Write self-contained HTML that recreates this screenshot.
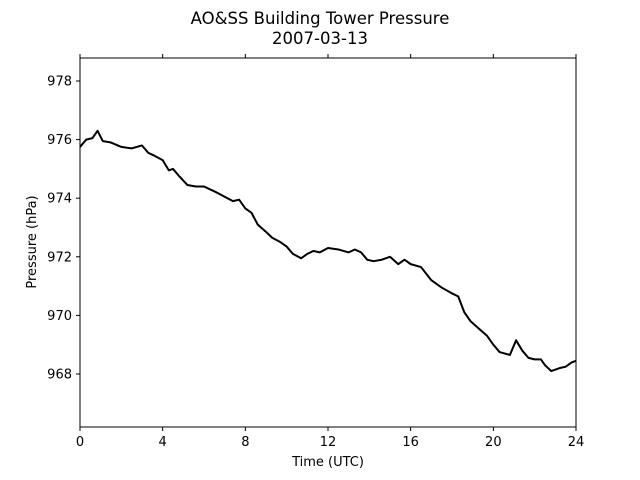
<!DOCTYPE html>
<html><head><meta charset="utf-8"><style>
body{margin:0;background:#fff}
svg{display:block;font-family:"DejaVu Sans","Liberation Sans",sans-serif}
</style></head><body>
<svg id="chart" width="640" height="480">
<text x="320" y="24" text-anchor="middle" font-size="16.5">AO&amp;SS Building Tower Pressure</text>
<text x="320" y="44" text-anchor="middle" font-size="16.5">2007-03-13</text>
<g id="axes"></g>
<rect x="80" y="58" width="496" height="369" fill="none" stroke="#000" stroke-width="1"/>
<text x="328" y="466" text-anchor="middle" font-size="13">Time (UTC)</text>
<text transform="translate(36,242) rotate(-90)" text-anchor="middle" font-size="13">Pressure (hPa)</text>
</svg>
<script>
const times=[0,0.3,0.6,0.85,1.1,1.5,2,2.5,3,3.3,3.6,4,4.3,4.5,4.8,5.2,5.6,6,6.3,6.6,7,7.4,7.7,8,8.3,8.6,9,9.3,9.7,10,10.3,10.7,11,11.3,11.6,12,12.5,13,13.3,13.6,13.9,14.2,14.6,15,15.4,15.7,16,16.5,17,17.5,18,18.3,18.6,18.9,19.3,19.7,20,20.3,20.8,21.1,21.4,21.7,22,22.3,22.5,22.8,23.2,23.5,23.8,24];
const pressures=[975.75,976.0,976.05,976.3,975.95,975.9,975.75,975.7,975.8,975.55,975.45,975.3,974.95,975.0,974.75,974.45,974.4,974.4,974.3,974.2,974.05,973.9,973.95,973.65,973.5,973.1,972.85,972.65,972.5,972.35,972.1,971.95,972.1,972.2,972.15,972.3,972.25,972.15,972.25,972.15,971.9,971.85,971.9,972.0,971.75,971.9,971.75,971.65,971.2,970.95,970.75,970.65,970.1,969.8,969.55,969.3,969.0,968.75,968.65,969.15,968.8,968.55,968.5,968.5,968.3,968.1,968.2,968.25,968.4,968.45];
const xTicks=[0,4,8,12,16,20,24];
const yTicks=[968,970,972,974,976,978];
const X=t=>80+t*(496/24);
const Y=p=>374-(p-968)*29.3;
const NS="http://www.w3.org/2000/svg";
const g=document.getElementById('axes');
function mk(tag,a){const e=document.createElementNS(NS,tag);for(const k in a)e.setAttribute(k,a[k]);g.appendChild(e);return e;}
xTicks.forEach(t=>{
  const x=X(t);
  const tk=mk('line',{x1:x,x2:x,y1:427,y2:431,stroke:'#000'});
  
  
  const tt=mk('line',{x1:x,x2:x,y1:54,y2:58,stroke:'#000'});
  
  
  const lb=mk('text',{x:x,y:446,'text-anchor':'middle','font-size':'13'});
  lb.textContent=t;
  
  
});
yTicks.forEach(p=>{
  const y=Y(p);
  const tk=mk('line',{x1:76,x2:80,y1:y,y2:y,stroke:'#000'});
  
  
  const lb=mk('text',{x:72,y:y+4.5,'text-anchor':'end','font-size':'13'});
  lb.textContent=p;
  
  
});
const line=mk('polyline',{points:times.map((t,i)=>X(t)+','+Y(pressures[i])).join(' '),fill:'none',stroke:'#000','stroke-width':'2','stroke-linejoin':'round'});


</script>
</body></html>
